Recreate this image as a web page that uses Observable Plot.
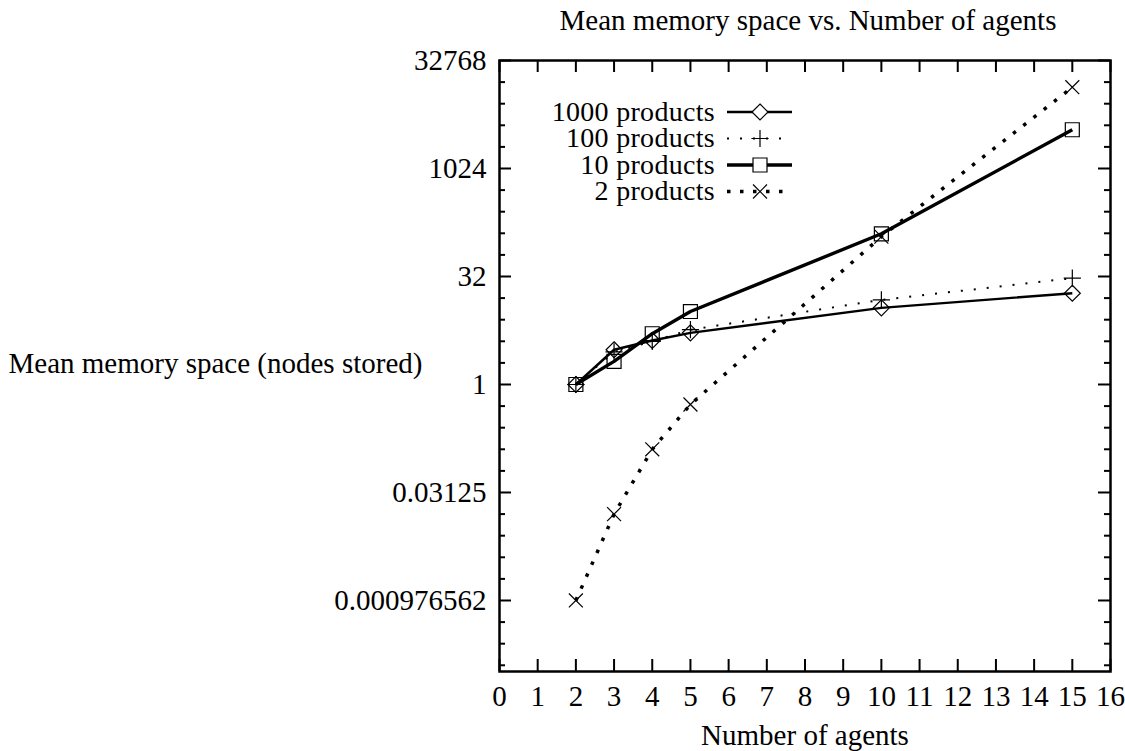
<!DOCTYPE html>
<html>
<head>
<meta charset="utf-8">
<script src="https://cdn.jsdelivr.net/npm/d3@7"></script>
<script src="https://cdn.jsdelivr.net/npm/@observablehq/plot@0.6"></script>
<style>
  body { margin: 0; background: #fff; }
  #chart svg { font-family: "Liberation Serif", serif; }
</style>
</head>
<body>
<div id="chart"></div>
<script>
// ---- data ----
const agents = [2, 3, 4, 5, 10, 15];
const products1000 = [1, 3.05, 4.1, 5.25, 11.7, 18.7];
const products100 = [1, 2.85, 4.0, 5.8, 15.1, 30.3];
const products10 = [1, 2.1, 5.1, 10.4, 126, 3550];
const products2 = [0.000977, 0.0156, 0.125, 0.526, 115, 13900];
const seriesNames = ["1000 products", "100 products", "10 products", "2 products"];
const yMajorTicks = [32768, 1024, 32, 1, 0.03125, 0.0009765625];
const yTickLabels = ["32768", "1024", "32", "1", "0.03125", "0.000976562"];
const xTicks = [0, 1, 2, 3, 4, 5, 6, 7, 8, 9, 10, 11, 12, 13, 14, 15, 16];
const titleText = "Mean memory space vs. Number of agents";
const xLabelText = "Number of agents";
const yLabelText = "Mean memory space (nodes stored)";

// ---- styles ----
const FS = 29;
const LFS = 28;
const seriesValues = [products1000, products100, products10, products2];
const styles = [
  {width: 2.4, dash: null, symbol: "diamond2", r: 7.2, d3sym: d3.symbolDiamond2},
  {width: 2, dash: "2 11", symbol: "plus", r: 5.6, d3sym: d3.symbolPlus},
  {width: 3.4, dash: null, symbol: "square2", r: 8.9, d3sym: d3.symbolSquare2},
  {width: 3.5, dash: "3.5 9.5", symbol: "times", r: 6.4, d3sym: d3.symbolTimes}
];

const tables = seriesValues.map((vals, s) =>
  agents.map((a, i) => ({agents: a, value: vals[i], series: seriesNames[s]})));

// minor ticks at every power of two inside the domain
const yMinorTicks = d3.range(-13, 15).map(e => 2 ** e).filter(v => !yMajorTicks.includes(v));
const labelMap = new Map(yMajorTicks.map((v, i) => [v, yTickLabels[i]]));

const W = 1125, H = 751;
const mL = 499, mR = 15, mT = 60, mB = 80;
const pw = W - mL - mR, ph = H - mT - mB;

const marks = [];
// ticks (inward, mirrored)
marks.push(Plot.ruleY(yMajorTicks, {y: d => d, insetRight: pw - 12, strokeWidth: 2}));
marks.push(Plot.ruleY(yMajorTicks, {y: d => d, insetLeft: pw - 12, strokeWidth: 2}));
marks.push(Plot.ruleY(yMinorTicks, {y: d => d, insetRight: pw - 6, strokeWidth: 2}));
marks.push(Plot.ruleY(yMinorTicks, {y: d => d, insetLeft: pw - 6, strokeWidth: 2}));
marks.push(Plot.ruleX(xTicks, {x: d => d, insetTop: ph - 12, strokeWidth: 2}));
marks.push(Plot.ruleX(xTicks, {x: d => d, insetBottom: ph - 12, strokeWidth: 2}));
marks.push(Plot.frame({stroke: "black", strokeWidth: 2.5}));

// axes labels
marks.push(Plot.axisY(yMajorTicks, {tickSize: 0, tickPadding: 13, tickFormat: d => labelMap.get(d), label: null, fontSize: FS}));
marks.push(Plot.axisX(xTicks, {tickSize: 0, tickPadding: 14, tickFormat: d => String(d), label: null, fontSize: FS}));

// series (straight segments between points)
tables.forEach((t, s) => {
  const st = styles[s];
  marks.push(Plot.line(t, {x: "agents", y: "value", curve: "linear", stroke: "black",
    strokeWidth: st.width, strokeDasharray: st.dash, strokeLinecap: "butt", strokeLinejoin: "round"}));
});
tables.forEach((t, s) => {
  const st = styles[s];
  marks.push(Plot.dot(t, {x: "agents", y: "value", symbol: st.symbol, r: st.r,
    stroke: "black", strokeWidth: 1.2, fill: "none"}));
});

// texts
marks.push(Plot.text([titleText], {text: d => d, frameAnchor: "top", lineAnchor: "middle", dy: -40, dx: 3, fontSize: FS}));
marks.push(Plot.text([xLabelText], {text: d => d, frameAnchor: "bottom", lineAnchor: "middle", dy: 64, fontSize: FS}));
marks.push(Plot.text([yLabelText], {text: d => d, frameAnchor: "left", lineAnchor: "middle", textAnchor: "start", dx: -491, dy: -2, fontSize: FS}));

const svg = Plot.plot({
  width: W, height: H,
  marginLeft: mL, marginRight: mR, marginTop: mT, marginBottom: mB,
  style: {fontFamily: "Liberation Serif", fontSize: FS + "px", background: "white", overflow: "visible", color: "black"},
  x: {domain: [0, 16], axis: null},
  y: {type: "log", base: 2, domain: [0.0001, 32768], axis: null},
  marks
});

// legend (inside the frame, top-left)
const lg = d3.select(svg).append("g").attr("class", "legend");
const rowY = [112, 138.5, 165, 191.5];
seriesNames.forEach((name, s) => {
  const st = styles[s];
  const y = rowY[s];
  lg.append("text").attr("x", 715).attr("y", y).attr("dy", "0.32em")
    .attr("text-anchor", "end").attr("font-size", LFS).attr("letter-spacing", "0.3px")
    .attr("fill", "black").text(name);
  lg.append("line").attr("x1", 727).attr("x2", 792).attr("y1", y).attr("y2", y)
    .attr("stroke", "black").attr("stroke-width", st.width)
    .attr("stroke-dasharray", st.dash).attr("stroke-linecap", "butt");
  lg.append("path").attr("transform", `translate(760,${y})`)
    .attr("d", d3.symbol(st.d3sym, Math.PI * st.r * st.r)())
    .attr("fill", st.dash ? "none" : "white").attr("stroke", "black").attr("stroke-width", 1.2);
});

document.getElementById("chart").appendChild(svg);
</script>
</body>
</html>
